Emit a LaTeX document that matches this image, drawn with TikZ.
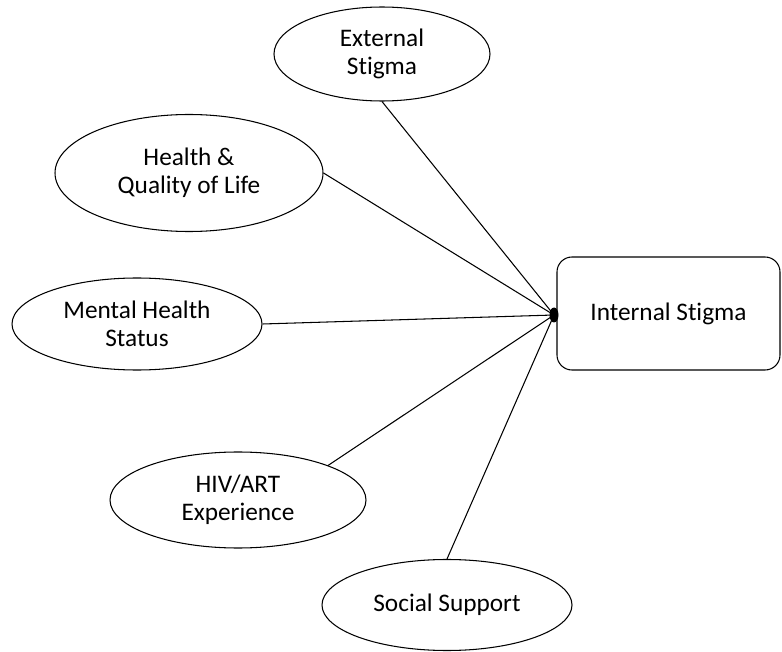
\documentclass[tikz,border=0pt]{standalone}
\usepackage{fontspec}
\setmainfont{Carlito}[Ligatures=NoCommon]
\usetikzlibrary{shapes.geometric}

\tikzset{
  factor/.style={ellipse, draw, line width=0.6pt, inner sep=0pt, align=center,
    font=\fontsize{14.4}{16}\selectfont},
  outcome/.style={rectangle, draw, line width=0.6pt, rounded corners=0.3cm,
    inner sep=0pt, font=\fontsize{14.4}{16}\selectfont},
  junction/.style={ellipse, fill, inner sep=0pt},
  link/.style={line width=0.6pt},
}

\begin{document}
\begin{tikzpicture}[x=0.02cm, y=-0.02cm]

  % One unit of the grid, used for the node sizes
  \def\u{0.02cm}

  % Fix the page size
  \useasboundingbox (0,0) rectangle (782,652);

  % Draw the outcome box on the right
  \node[outcome, minimum width=223*\u, minimum height=113*\u] (ins) at (668.5,313.5) {Internal Stigma};

  % Draw the five predictor ellipses
  \node[factor, minimum width=216*\u, minimum height=94*\u] (ext) at (382,54) {External\\Stigma};
  \node[factor, minimum width=268*\u, minimum height=117*\u] (hql) at (189,173) {Health \&\\Quality of Life};
  \node[factor, minimum width=250*\u, minimum height=92*\u] (mhs) at (137,324) {Mental Health\\Status};
  \node[factor, minimum width=256*\u, minimum height=96*\u] (hiv) at (238,500) {HIV/ART\\Experience};
  \node[factor, minimum width=250*\u, minimum height=91*\u] (soc) at (447,605) {Social Support};

  % The point on the box where all paths meet
  \node[junction, minimum width=9*\u, minimum height=15*\u] (j) at (554,315) {};

  % Paths from each predictor to the junction
  \draw[link] (ext.south) -- (j.center);
  \draw[link] (hql.east) -- (j.center);
  \draw[link] (mhs.east) -- (j.center);
  \draw[link] (hiv.21) -- (j.center);
  \draw[link] (soc.north) -- (j.center);

\end{tikzpicture}
\end{document}
